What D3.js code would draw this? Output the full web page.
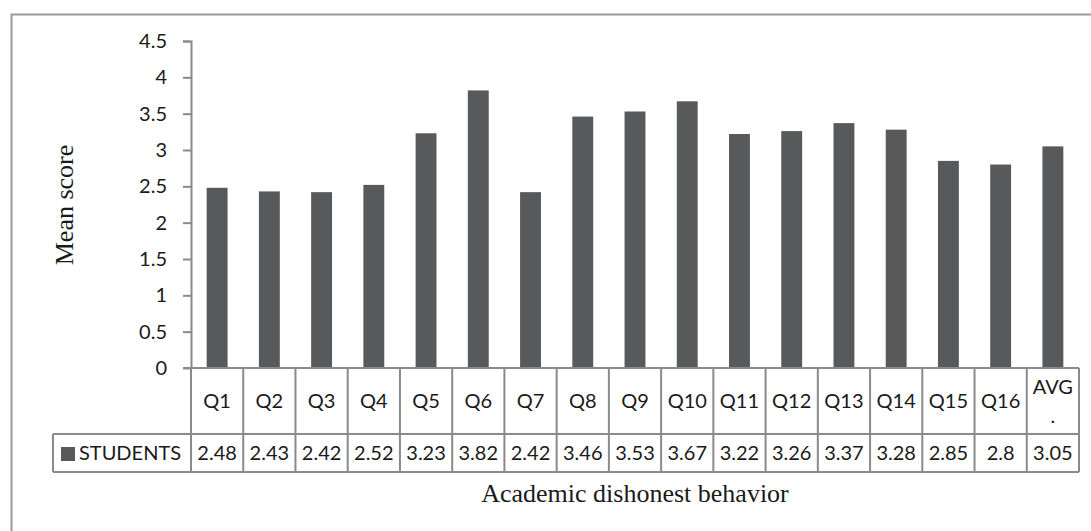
<!DOCTYPE html>
<html>
<head>
<meta charset="utf-8">
<script src="https://cdn.jsdelivr.net/npm/d3@7"></script>
<style>
  body { margin: 0; background: #fff; }
  svg text { fill: #1a1a1a; }
</style>
</head>
<body>
<div id="chart"></div>
<script>
const categories = ["Q1", "Q2", "Q3", "Q4", "Q5", "Q6", "Q7", "Q8", "Q9", "Q10", "Q11", "Q12", "Q13", "Q14", "Q15", "Q16", "AVG."];
const seriesName = "STUDENTS";
const students = [2.48, 2.43, 2.42, 2.52, 3.23, 3.82, 2.42, 3.46, 3.53, 3.67, 3.22, 3.26, 3.37, 3.28, 2.85, 2.8, 3.05];
const yTicks = [0, 0.5, 1, 1.5, 2, 2.5, 3, 3.5, 4, 4.5];

const W = 1091, H = 531;
const margin = {top: 41, left: 191, right: 12, bottom: 163};
const plotW = W - margin.left - margin.right;
const plotH = H - margin.top - margin.bottom;
const headerH = 66, rowH = 38, legendLeft = 53;
const gridColor = "#8a8a8a";
const barColor = "#58595b";
const tickFont = "Lato, 'Open Sans', sans-serif";
const tickSize = "20px";
const titleFont = "'Liberation Serif', 'Times New Roman', serif";

const svg = d3.select("#chart").append("svg")
    .attr("width", W)
    .attr("height", H);

// outer frame (cropped at right and bottom)
svg.append("rect")
    .attr("x", 11.5).attr("y", 14.5)
    .attr("width", W + 20).attr("height", H + 20)
    .attr("fill", "none")
    .attr("stroke", "#9a9a9a")
    .attr("stroke-width", 2);

const g = svg.append("g")
    .attr("transform", `translate(${margin.left},${margin.top})`);

let x = d3.scaleBand()
    .domain(categories)
    .range([0, plotW])
    .padding(0);

let y = d3.scaleLinear()
    .domain([0, 4.5])
    .range([plotH, 0]);

// Y axis
const yAxis = g.append("g")
    .call(d3.axisLeft(y).tickValues(yTicks).tickFormat(d => d).tickSize(8).tickPadding(16));
yAxis.selectAll("path, line").attr("stroke", gridColor).attr("stroke-width", 2);
yAxis.select(".domain").attr("d", `M-8,0.5H0.5V${plotH}`);
yAxis.selectAll("text")
    .style("font-family", tickFont)
    .style("font-size", tickSize)
    .attr("fill", "#1a1a1a");

// Bars
const barW = x.bandwidth() * 0.4;
g.selectAll("rect.bar")
    .data(students)
    .enter()
    .append("rect")
    .attr("class", "bar")
    .attr("x", (d, i) => x(categories[i]) + (x.bandwidth() - barW) / 2)
    .attr("y", d => y(d))
    .attr("width", barW)
    .attr("height", d => plotH - y(d))
    .attr("fill", barColor);

// Data table
const table = g.append("g").attr("transform", `translate(0,${plotH})`);
const lineStyle = sel => sel.attr("stroke", gridColor).attr("stroke-width", 2);

// horizontal lines
table.append("line").attr("x1", -8).attr("x2", plotW).attr("y1", 0).attr("y2", 0).call(lineStyle);
table.append("line").attr("x1", legendLeft - margin.left).attr("x2", plotW).attr("y1", headerH).attr("y2", headerH).call(lineStyle);
table.append("line").attr("x1", legendLeft - margin.left).attr("x2", plotW).attr("y1", headerH + rowH).attr("y2", headerH + rowH).call(lineStyle);
// vertical lines
table.selectAll("line.col")
    .data(categories.concat(["end"]))
    .enter()
    .append("line")
    .attr("class", "col")
    .attr("x1", (d, i) => i * x.bandwidth())
    .attr("x2", (d, i) => i * x.bandwidth())
    .attr("y1", 0)
    .attr("y2", headerH + rowH)
    .call(lineStyle);
table.append("line")
    .attr("x1", legendLeft - margin.left).attr("x2", legendLeft - margin.left)
    .attr("y1", headerH).attr("y2", headerH + rowH)
    .call(lineStyle);

// category labels
table.selectAll("text.cat")
    .data(categories)
    .enter()
    .append("text")
    .attr("class", "cat")
    .attr("x", d => x(d) + x.bandwidth() / 2)
    .attr("y", headerH / 2 + 7)
    .attr("text-anchor", "middle")
    .style("font-family", tickFont)
    .style("font-size", tickSize)
    .each(function(d) {
      const t = d3.select(this);
      if (d === "AVG.") {
        t.append("tspan").attr("x", x(d) + x.bandwidth() / 2).attr("y", 26).text("AVG");
        t.append("tspan").attr("x", x(d) + x.bandwidth() / 2).attr("y", 55).text(".");
      } else {
        t.text(d);
      }
    });

// values row
table.selectAll("text.val")
    .data(students)
    .enter()
    .append("text")
    .attr("class", "val")
    .attr("x", (d, i) => x(categories[i]) + x.bandwidth() / 2)
    .attr("y", headerH + rowH / 2 + 7)
    .attr("text-anchor", "middle")
    .style("font-family", tickFont)
    .style("font-size", tickSize)
    .text(d => d);

// legend key in table
table.append("rect")
    .attr("x", legendLeft - margin.left + 8)
    .attr("y", headerH + rowH / 2 - 6)
    .attr("width", 14).attr("height", 14)
    .attr("fill", barColor);
table.append("text")
    .attr("x", legendLeft - margin.left + 26)
    .attr("y", headerH + rowH / 2 + 7)
    .style("font-family", tickFont)
    .style("font-size", tickSize)
    .text(seriesName);

// axis titles
svg.append("text")
    .attr("x", margin.left + plotW / 2)
    .attr("y", 502)
    .attr("text-anchor", "middle")
    .style("font-family", titleFont)
    .style("font-size", "26px")
    .text("Academic dishonest behavior");

svg.append("text")
    .attr("transform", `translate(73,205) rotate(-90)`)
    .attr("text-anchor", "middle")
    .style("font-family", titleFont)
    .style("font-size", "26px")
    .text("Mean score");
</script>
</body>
</html>
